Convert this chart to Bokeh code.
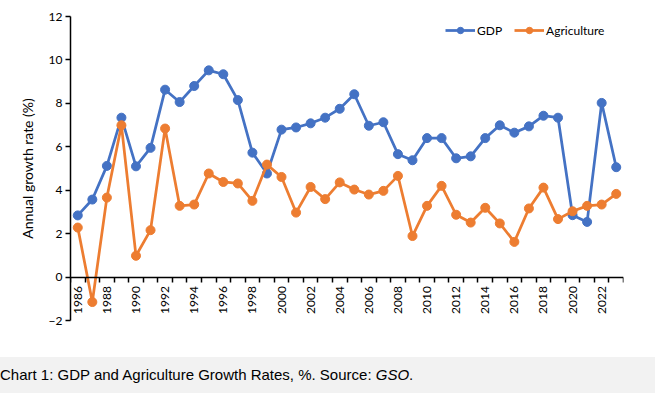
import numpy as np
from bokeh.plotting import figure
from bokeh.models import Range1d, FixedTicker, Div, Legend
from bokeh.layouts import column
from bokeh.embed import file_html
from bokeh.resources import INLINE

years = list(range(1986, 2024))
gdp = [2.84, 3.57, 5.12, 7.34, 5.10, 5.95, 8.63, 8.06, 8.80, 9.52,
       9.34, 8.15, 5.73, 4.77, 6.79, 6.89, 7.08, 7.34, 7.75, 8.42,
       6.97, 7.13, 5.66, 5.38, 6.40, 6.40, 5.47, 5.56, 6.40, 6.99,
       6.65, 6.94, 7.43, 7.34, 2.85, 2.54, 8.02, 5.06]
agri = [2.28, -1.15, 3.66, 6.99, 0.98, 2.16, 6.84, 3.28, 3.34, 4.77,
        4.38, 4.31, 3.51, 5.18, 4.61, 2.97, 4.15, 3.59, 4.36, 4.03,
        3.80, 3.97, 4.66, 1.89, 3.28, 4.20, 2.87, 2.51, 3.19, 2.47,
        1.62, 3.16, 4.12, 2.67, 3.03, 3.28, 3.34, 3.83]
label_years = list(range(1986, 2023, 2))
y_ticks = [-2, 0, 2, 4, 6, 8, 10, 12]

GDP_COLOR = "#4472C4"
AGRI_COLOR = "#ED7D31"
FONT = "Lato"

p = figure(width=655, height=357, output_backend="svg", toolbar_location=None,
           x_range=Range1d(years[0] - 0.5, years[-1] + 0.5),
           y_range=Range1d(-2, 12),
           min_border_left=70, min_border_right=32, min_border_top=16,
           min_border_bottom=37)
p.outline_line_color = None
p.xgrid.visible = False
p.ygrid.visible = False

# x axis at y=0
xa = p.xaxis[0]
xa.fixed_location = 0
xa.ticker = FixedTicker(ticks=label_years,
                        minor_ticks=[y - 0.5 for y in years] + [years[-1] + 0.5])
xa.major_label_orientation = np.pi / 2
xa.major_tick_out = 0
xa.major_tick_in = 0
xa.minor_tick_out = 5
xa.minor_tick_in = 0
xa.minor_tick_line_color = "#000000"
xa.minor_tick_line_width = 1.5
xa.axis_line_color = "#000000"
xa.axis_line_width = 1.5
xa.major_label_text_font = FONT
xa.major_label_text_font_size = "12px"
xa.major_label_text_color = "#000000"
xa.major_label_standoff = 4

ya = p.yaxis[0]
ya.ticker = FixedTicker(ticks=y_ticks, minor_ticks=[])
ya.major_tick_out = 5
ya.major_tick_in = 0
ya.major_tick_line_color = "#000000"
ya.major_tick_line_width = 1.5
ya.axis_line_color = "#000000"
ya.axis_line_width = 1.5
ya.major_label_text_font = FONT
ya.major_label_text_font_size = "12px"
ya.major_label_text_color = "#000000"
ya.major_label_standoff = 3
ya.axis_label = "Annual growth rate (%)"
ya.axis_label_text_font = FONT
ya.axis_label_text_font_size = "14px"
ya.axis_label_text_font_style = "normal"
ya.axis_label_text_color = "#000000"
ya.axis_label_standoff = 10

gl = p.line(years, gdp, line_color=GDP_COLOR, line_width=2.75)
gs = p.scatter(years, gdp, size=9, fill_color=GDP_COLOR, line_color=GDP_COLOR)
al = p.line(years, agri, line_color=AGRI_COLOR, line_width=2.75)
as_ = p.scatter(years, agri, size=9, fill_color=AGRI_COLOR, line_color=AGRI_COLOR)

legend = Legend(items=[("GDP", [gl, gs]), ("Agriculture", [al, as_])],
                orientation="horizontal", location=(375, 282),
                padding=0, margin=0, spacing=12, glyph_width=30, glyph_height=16,
                label_standoff=2, label_text_font=FONT, label_text_font_size="12px",
                label_text_color="#000000", border_line_color=None,
                background_fill_alpha=0)
p.add_layout(legend, "center")

caption = Div(text='<div style="background:#f2f2f2;width:655px;height:36px;'
                   'font-family:\'Liberation Sans\',Arial,sans-serif;font-size:15px;'
                   'line-height:36px;box-sizing:border-box;color:#000;'
                   'white-space:nowrap;margin:0;padding:0;">'
                   'Chart 1: GDP and Agriculture Growth Rates, %. Source: <i>GSO</i>.'
                   '</div>',
              width=655, height=36, styles={"margin": "0", "padding": "0"})

layout = column(p, caption, spacing=0)
open("out.html", "w").write(file_html(layout, INLINE))
